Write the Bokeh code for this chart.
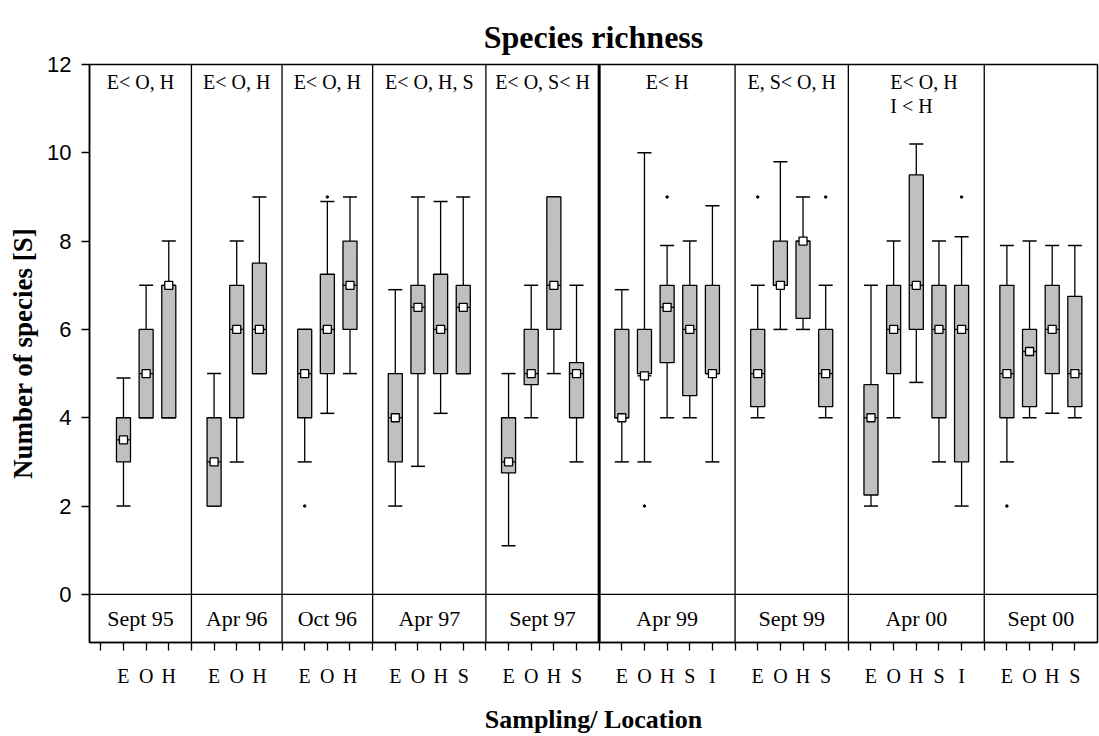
from bokeh.plotting import figure
from bokeh.models import Range1d, FixedTicker, Span, ColumnDataSource
from bokeh.core.properties import value
from bokeh.embed import file_html
from bokeh.resources import INLINE

# Sampling campaigns and the locations sampled in each
samplings = ["Sept 95", "Apr 96", "Oct 96", "Apr 97", "Sept 97",
             "Apr 99", "Sept 99", "Apr 00", "Sept 00"]
locations = [
    ["E", "O", "H"],
    ["E", "O", "H"],
    ["E", "O", "H"],
    ["E", "O", "H", "S"],
    ["E", "O", "H", "S"],
    ["E", "O", "H", "S", "I"],
    ["E", "O", "H", "S"],
    ["E", "O", "H", "S", "I"],
    ["E", "O", "H", "S"],
]
# Significant differences between locations per campaign
tests = [
    ["E< O, H"],
    ["E< O, H"],
    ["E< O, H"],
    ["E< O, H, S"],
    ["E< O, S< H"],
    ["E< H"],
    ["E, S< O, H"],
    ["E< O, H", "I < H"],
    [],
]
# The campaign after which the sampling series resumes (1997 -> 1999)
series_break = 4

# Box statistics, one entry per location, campaigns in order
low = [2, 4, 4,
       2, 3, 5,
       3, 4.1, 5,
       2, 2.9, 4.1, 5,
       1.1, 4, 5, 3,
       3, 3, 4, 4, 3,
       4, 6, 6, 4,
       2, 4, 4.8, 3, 2,
       3, 4, 4.1, 4]
q1 = [3, 4, 4,
      2, 4, 5,
      4, 5, 6,
      3, 5, 5, 5,
      2.75, 4.75, 6, 4,
      4, 5, 5.25, 4.5, 5,
      4.25, 7, 6.25, 4.25,
      2.25, 5, 6, 4, 3,
      4, 4.25, 5, 4.25]
median = [3.5, 5, 7,
          3, 6, 6,
          5, 6, 7,
          4, 6.5, 6, 6.5,
          3, 5, 7, 5,
          4, 4.95, 6.5, 6, 5,
          5, 7, 8, 5,
          4, 6, 7, 6, 6,
          5, 5.5, 6, 5]
q3 = [4, 6, 7,
      4, 7, 7.5,
      6, 7.25, 8,
      5, 7, 7.25, 7,
      4, 6, 9, 5.25,
      6, 6, 7, 7, 7,
      6, 8, 8, 6,
      4.75, 7, 9.5, 7, 7,
      7, 6, 7, 6.75]
high = [4.9, 7, 8,
        5, 8, 9,
        6, 8.9, 9,
        6.9, 9, 8.9, 9,
        5, 7, 9, 7,
        6.9, 10, 7.9, 8, 8.8,
        7, 9.8, 9, 7,
        7, 8, 10.2, 8, 8.1,
        7.9, 8, 7.9, 7.9]
outliers = [[], [], [],
            [], [], [],
            [2], [9], [],
            [], [], [], [],
            [], [], [], [],
            [], [2], [9], [], [],
            [9], [], [], [9],
            [], [], [], [], [9],
            [2], [], [], []]

SERIF = "Liberation Serif"
SANS = "Liberation Sans"
BOX_W = 0.62

# Lay out the slots: a blank slot opens the axis, then each campaign's
# locations followed by one separator slot.
pos, tick_labels, seps, bands = [], {}, [], []
slot = 1
left_edge = -0.5
for g, locs in enumerate(locations):
    start = slot
    for j, loc in enumerate(locs):
        pos.append(slot + j)
        tick_labels[slot + j] = loc
    sep = slot + len(locs)
    seps.append(sep)
    bands.append((left_edge if g == 0 else start - 1, sep))
    slot = sep + 1
x_end = seps[-1]

p = figure(width=1099, height=736, output_backend="svg", toolbar_location=None,
           x_range=Range1d(left_edge, x_end), y_range=Range1d(-1.09, 12),
           min_border_left=89, min_border_right=2, min_border_top=64,
           min_border_bottom=91)
p.xgrid.grid_line_color = None
p.ygrid.grid_line_color = None
p.outline_line_color = "black"
p.outline_line_width = 1.5
p.background_fill_color = "white"
p.border_fill_color = "white"

p.title.text = "Species richness"
p.title.align = "center"
p.title.text_font = SERIF
p.title.text_font_style = "bold"
p.title.text_font_size = "32px"
p.title.text_color = "black"
p.title.standoff = 20

# x axis: one tick per slot, letters under the location slots
all_ticks = list(range(0, x_end))
p.xaxis.ticker = FixedTicker(ticks=all_ticks)
p.xaxis.major_label_overrides = {t: tick_labels.get(t, "") for t in all_ticks}
p.xaxis.major_tick_in = 0
p.xaxis.major_tick_out = 8
p.xaxis.minor_tick_line_color = None
p.xaxis.major_tick_line_width = 1.3
p.xaxis.axis_line_width = 1.5
p.xaxis.major_label_text_font = SERIF
p.xaxis.major_label_text_font_size = "20px"
p.xaxis.major_label_text_color = "black"
p.xaxis.major_label_standoff = 14
p.xaxis.axis_label = "Sampling/ Location"
p.xaxis.axis_label_text_font = SERIF
p.xaxis.axis_label_text_font_style = "bold"
p.xaxis.axis_label_text_font_size = "26px"
p.xaxis.axis_label_text_color = "black"
p.xaxis.axis_label_standoff = 15

p.yaxis.ticker = FixedTicker(ticks=[0, 2, 4, 6, 8, 10, 12])
p.yaxis.major_tick_in = 0
p.yaxis.major_tick_out = 8
p.yaxis.minor_tick_line_color = None
p.yaxis.major_tick_line_width = 1.3
p.yaxis.axis_line_width = 1.5
p.yaxis.major_label_text_font = SANS
p.yaxis.major_label_text_font_size = "22px"
p.yaxis.major_label_text_color = "black"
p.yaxis.major_label_standoff = 10
p.yaxis.axis_label = "Number of species [S]"
p.yaxis.axis_label_text_font = SERIF
p.yaxis.axis_label_text_font_style = "bold"
p.yaxis.axis_label_text_font_size = "27px"
p.yaxis.axis_label_text_color = "black"
p.yaxis.axis_label_standoff = 6

# campaign separators and the band holding the campaign names
for g, s in enumerate(seps[:-1]):
    p.add_layout(Span(location=s, dimension="height", line_color="black",
                      line_width=3 if g == series_break else 1.3))
p.add_layout(Span(location=0, dimension="width", line_color="black", line_width=1.3))

src = ColumnDataSource(dict(
    x=pos, low=low, q1=q1, med=median, q3=q3, high=high,
    xl=[x - BOX_W / 2 for x in pos], xr=[x + BOX_W / 2 for x in pos],
))

# whiskers and caps
p.segment(x0="x", y0="q3", x1="x", y1="high", source=src, line_color="black", line_width=1.3)
p.segment(x0="x", y0="q1", x1="x", y1="low", source=src, line_color="black", line_width=1.3)
p.segment(x0="xl", y0="high", x1="xr", y1="high", source=src, line_color="black", line_width=1.5)
p.segment(x0="xl", y0="low", x1="xr", y1="low", source=src, line_color="black", line_width=1.5)
# boxes
p.vbar(x="x", width=BOX_W, bottom="q1", top="q3", source=src,
       fill_color="#c0c0c0", line_color="black", line_width=1.3)
# medians
p.segment(x0="xl", y0="med", x1="xr", y1="med", source=src, line_color="black", line_width=1.3)
p.scatter(x="x", y="med", source=src, marker="square", size=8,
          fill_color="white", line_color="black", line_width=1.3)

# outlying values
ox, oy = [], []
for x, vals in zip(pos, outliers):
    for v in vals:
        ox.append(x)
        oy.append(v)
p.scatter(ox, oy, size=2.5, color="black")

# campaign names
centers = [(a + b) / 2 for a, b in bands]
p.text(x=centers, y=[-0.545] * len(centers), text=samplings,
       text_font=value(SERIF), text_font_size="22px", text_color="black",
       text_align="center", text_baseline="middle")

# test results at the top of each campaign
line_step = 0.55
tx, ty, tt = [], [], []
mx, my, mt = [], [], []
for c, lines in zip(centers, tests):
    if len(lines) == 1:
        tx.append(c); ty.append(11.6); tt.append(lines[0])
    else:
        for k, line in enumerate(lines):
            mx.append(c - 1.15); my.append(11.6 - k * line_step); mt.append(line)
p.text(x=tx, y=ty, text=tt, text_font=value(SERIF), text_font_size="20px",
       text_color="black", text_align="center", text_baseline="middle")
p.text(x=mx, y=my, text=mt, text_font=value(SERIF), text_font_size="20px",
       text_color="black", text_align="left", text_baseline="middle")

open("out.html", "w").write(file_html(p, INLINE))
